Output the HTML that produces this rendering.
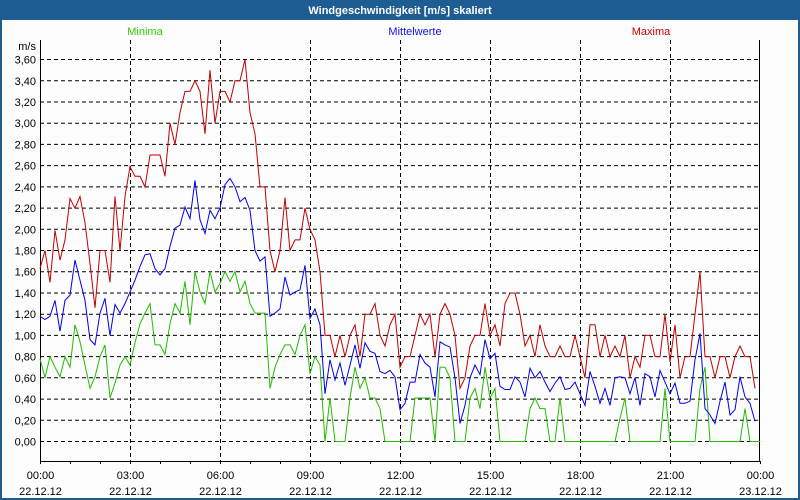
<!DOCTYPE html>
<html><head><meta charset="utf-8"><style>
body{margin:0;width:800px;height:500px;overflow:hidden;background:#fff;font-family:"Liberation Sans","DejaVu Sans",sans-serif}
</style></head><body>
<svg id="s" width="800" height="500" xmlns="http://www.w3.org/2000/svg" style="display:block">
<rect x="0" y="0" width="800" height="500" fill="#1e5d92"/>
<rect x="2" y="20" width="796" height="478" fill="#fdfdfd"/>
<text x="400" y="14" fill="#fff" font-size="11" font-weight="bold" text-anchor="middle" font-family="Liberation Sans, sans-serif">Windgeschwindigkeit [m/s] skaliert</text>
<g font-size="11" font-family="Liberation Sans, sans-serif">
<text x="145" y="35" fill="#33cc00" text-anchor="middle">Minima</text>
<text x="415" y="35" fill="#1010ee" text-anchor="middle">Mittelwerte</text>
<text x="651" y="35" fill="#cc0000" text-anchor="middle">Maxima</text>
</g>
<g id="grid"></g>
<g id="ser"></g>
</svg>
<script>
var s=document.getElementById('grid'),out='';
function Y(v){return 441.5-v*106.1}
for(var k=0;k<=18;k++){var y=Y(k*0.2).toFixed(1);out+='<line x1="40" x2="760" y1="'+y+'" y2="'+y+'" stroke="#000" stroke-dasharray="4,3"/>';
out+='<text x="36" y="'+(+y+4)+'" font-size="11" text-anchor="end" font-family="Liberation Sans, sans-serif">'+(k*0.2).toFixed(2).replace('.',',')+'</text>';}
out+='<text x="36" y="50" font-size="11" text-anchor="end" font-family="Liberation Sans, sans-serif">m/s</text>';
var t=['00:00','03:00','06:00','09:00','12:00','15:00','18:00','21:00','00:00'];
for(var k=0;k<=8;k++){var x=40+k*90+0.5;
if(k>0&&k<8)out+='<line x1="'+x+'" x2="'+x+'" y1="40" y2="461" stroke="#000" stroke-dasharray="4,3"/>';
out+='<text x="'+x+'" y="479" font-size="11" text-anchor="middle" font-family="Liberation Sans, sans-serif">'+t[k]+'</text>';
out+='<text x="'+x+'" y="495" font-size="11" text-anchor="middle" font-family="Liberation Sans, sans-serif">'+(k==8?'23.12.12':'22.12.12')+'</text>';}
for(var k=0;k<=24;k++){var x=40+k*30+0.5;out+='<line x1="'+x+'" x2="'+x+'" y1="461" y2="464" stroke="#000"/>';}
out+='<line x1="40.5" x2="40.5" y1="40" y2="462" stroke="#000"/><line x1="759.5" x2="759.5" y1="40" y2="462" stroke="#000"/><line x1="40" x2="760" y1="461.5" y2="461.5" stroke="#000"/>';
s.innerHTML=out;
var R=[1.63,1.8,1.5,1.99,1.71,1.9,2.29,2.2,2.31,2.06,1.68,1.26,1.8,1.8,1.5,2.31,1.8,2.31,2.59,2.5,2.5,2.4,2.7,2.7,2.7,2.5,3.0,2.8,3.1,3.3,3.3,3.4,3.3,2.9,3.5,3.0,
3.3,3.3,3.2,3.4,3.4,3.6,3.1,2.9,2.4,2.4,1.8,1.6,1.8,2.3,1.8,1.9,1.9,2.2,2.0,1.9,1.6,1.0,1.0,0.8,1.0,0.8,1.0,1.1,0.8,1.2,1.2,1.3,1.0,0.9,1.1,1.2,
0.7,0.8,0.8,1.0,1.2,1.1,1.2,0.8,1.2,1.3,1.2,1.0,0.5,0.6,0.9,1.0,1.0,1.3,1.0,1.1,0.9,1.3,1.4,1.4,1.2,0.9,1.0,0.8,1.1,0.9,0.8,0.8,0.9,0.8,0.8,1.0,
0.8,0.6,1.1,1.1,0.8,1.0,0.8,0.9,0.8,1.0,0.6,0.8,0.7,1.0,1.0,0.8,0.8,1.2,0.75,1.1,0.6,0.8,0.8,1.2,1.6,0.8,0.8,0.6,0.8,0.8,0.6,0.8,0.9,0.8,0.8,0.5];
var B=[1.18,1.15,1.18,1.33,1.04,1.33,1.38,1.71,1.52,1.33,0.96,0.91,1.21,1.35,1.0,1.29,1.21,1.30,1.41,1.52,1.65,1.76,1.77,1.63,1.57,1.63,1.84,2.01,2.04,2.21,2.10,2.46,2.09,1.96,2.18,2.1,
2.2,2.42,2.48,2.4,2.26,2.3,2.18,1.8,1.7,1.74,1.18,1.21,1.25,1.55,1.38,1.41,1.43,1.66,1.16,1.25,1.1,0.45,0.77,0.58,0.74,0.53,0.72,0.91,0.69,0.93,0.85,0.83,0.66,0.64,0.67,0.61,
0.3,0.36,0.56,0.56,0.82,0.74,0.7,0.42,0.94,0.91,0.89,0.6,0.17,0.34,0.6,0.72,0.63,0.96,0.78,0.83,0.52,0.49,0.49,0.61,0.56,0.42,0.69,0.6,0.66,0.56,0.47,0.55,0.61,0.49,0.5,0.56,
0.45,0.34,0.66,0.52,0.36,0.5,0.34,0.6,0.61,0.6,0.45,0.6,0.34,0.64,0.61,0.42,0.67,0.56,0.45,0.55,0.36,0.36,0.38,0.77,1.02,0.31,0.25,0.17,0.38,0.56,0.25,0.3,0.61,0.42,0.36,0.19];
var G=[0.78,0.6,0.8,0.7,0.61,0.8,0.7,1.1,0.94,0.72,0.5,0.61,0.8,0.91,0.41,0.55,0.72,0.8,0.72,0.93,1.11,1.21,1.3,0.91,0.91,0.82,1.11,1.3,1.21,1.51,1.1,1.6,1.41,1.3,1.6,1.41,
1.49,1.6,1.51,1.6,1.41,1.51,1.3,1.21,1.21,1.21,0.5,0.7,0.82,0.91,0.91,0.82,1.0,1.1,0.64,0.8,0.72,0,0.41,0,0,0,0.41,0.7,0.5,0.6,0.41,0.41,0.31,0,0,0,
0,0,0,0.41,0.41,0.41,0.41,0,0.7,0.7,0.6,0,0,0,0.41,0.5,0.31,0.7,0.41,0.5,0,0,0,0,0,0,0.31,0.41,0.31,0.31,0,0,0.41,0,0,0,0,
0,0,0,0,0,0,0,0.22,0.41,0,0,0,0,0,0,0,0.5,0,0,0,0,0,0,0.5,0.7,0,0,0,0,0,0,0,0.31,0,0,0];
function P(a,c){var p=a.map(function(v,i){return (40+i*5)+','+Y(v).toFixed(1)}).join(' ');return '<polyline points="'+p+'" fill="none" stroke="'+c+'" stroke-width="1"/>';}
document.getElementById('ser').innerHTML=P(G,'#22bb00')+P(B,'#0000ee')+P(R,'#c00000');
</script>
</body></html>
